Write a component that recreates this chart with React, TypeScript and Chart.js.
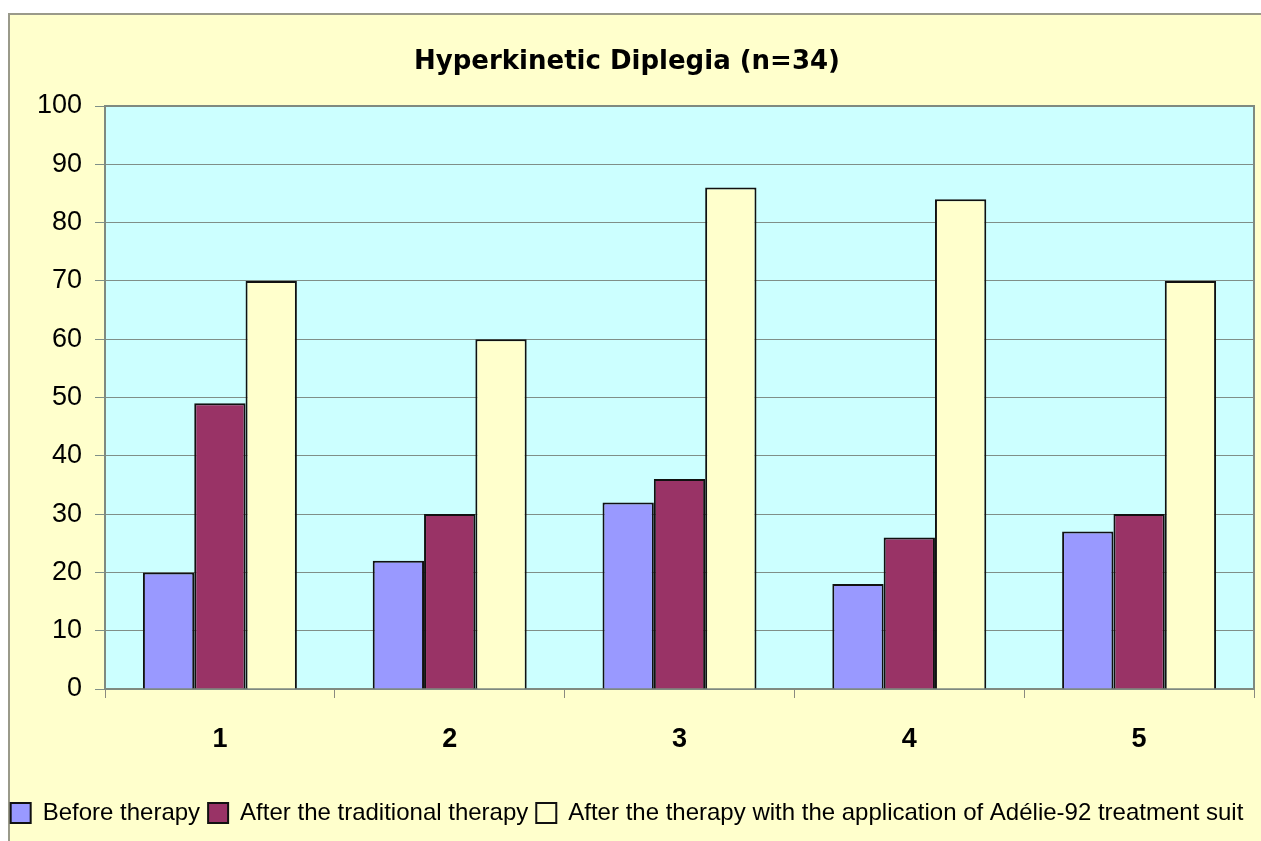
import { useEffect, useRef } from 'react';
import { Chart, registerables } from 'chart.js';

Chart.register(...registerables);

const categories = ['1', '2', '3', '4', '5'];
const beforeTherapy = [20, 22, 32, 18, 27];
const afterTraditional = [49, 30, 36, 26, 30];
const afterAdelie = [70, 60, 86, 84, 70];
const seriesLabels = [
  'Before therapy',
  'After the traditional therapy',
  'After the therapy with the application of Adélie-92 treatment suit',
];
const titleText = 'Hyperkinetic Diplegia (n=34)';
const yMin = 0;
const yMax = 100;
const yStep = 10;

const FONT = "'Liberation Sans', Arial, sans-serif";
const TITLE_FONT = "'DejaVu Sans', 'Liberation Sans', sans-serif";

const framePlugin = {
  id: 'frame',
  beforeDraw(chart: any) {
    const { ctx, chartArea, width, height } = chart;
    ctx.save();
    ctx.fillStyle = '#ffffff';
    ctx.fillRect(0, 0, width, height);
    ctx.fillStyle = '#FFFFCC';
    ctx.fillRect(9, 14, width, height);
    ctx.strokeStyle = '#9a9a8a';
    ctx.lineWidth = 2;
    ctx.beginPath();
    ctx.moveTo(9, height + 5);
    ctx.lineTo(9, 14);
    ctx.lineTo(width + 5, 14);
    ctx.stroke();
    ctx.fillStyle = '#CCFFFF';
    ctx.fillRect(chartArea.left, chartArea.top, chartArea.right - chartArea.left, chartArea.bottom - chartArea.top);
    ctx.restore();
  },
  afterDatasetsDraw(chart: any) {
    const { ctx, chartArea } = chart;
    ctx.save();
    ctx.strokeStyle = '#7f8a80';
    ctx.lineWidth = 2;
    ctx.beginPath();
    ctx.moveTo(chartArea.left, chartArea.top);
    ctx.lineTo(chartArea.right, chartArea.top);
    ctx.lineTo(chartArea.right, chartArea.bottom);
    ctx.stroke();
    ctx.restore();
  },
};

export default function App() {
  const ref = useRef<HTMLCanvasElement | null>(null);

  useEffect(() => {
    document.body.style.margin = '0';
    document.body.style.overflow = 'hidden';
    const canvas = ref.current;
    if (!canvas) return;
    const chart = new Chart(canvas, {
      type: 'bar',
      data: {
        labels: categories,
        datasets: [
          {
            label: seriesLabels[0],
            data: beforeTherapy,
            backgroundColor: '#9999FF',
            borderColor: '#111111',
            borderWidth: 2,
          },
          {
            label: seriesLabels[1],
            data: afterTraditional,
            backgroundColor: '#993366',
            borderColor: '#111111',
            borderWidth: 2,
          },
          {
            label: seriesLabels[2],
            data: afterAdelie,
            backgroundColor: '#FFFFCC',
            borderColor: '#111111',
            borderWidth: 2,
          },
        ],
      },
      options: {
        responsive: false,
        animation: false,
        devicePixelRatio: 1,
        layout: { padding: { left: 0, right: 7, top: 0, bottom: 6 } },
        datasets: {
          bar: { categoryPercentage: 0.67, barPercentage: 1.0 },
        },
        plugins: {
          title: {
            display: true,
            text: titleText,
            color: '#000000',
            font: { family: TITLE_FONT, size: 26, weight: 'bold', lineHeight: 1.2 },
            padding: { top: 46.4, bottom: 28.4 },
          },
          legend: {
            display: true,
            position: 'bottom',
            labels: {
              color: '#000000',
              font: { family: FONT, size: 24 },
              boxWidth: 20,
              boxHeight: 20,
              padding: 8,
            },
          },
          tooltip: { enabled: false },
        },
        scales: {
          x: {
            grid: {
              display: true,
              offset: true,
              drawOnChartArea: false,
              drawTicks: true,
              tickLength: 9,
              color: '#8a8a80',
              lineWidth: 1,
            },
            border: { display: true, color: '#7f8a80', width: 2 },
            ticks: {
              color: '#000000',
              font: { family: FONT, size: 27, weight: 'bold' },
              padding: 25,
            },
            afterFit(scale: any) {
              scale.height = 104;
            },
          },
          y: {
            min: yMin,
            max: yMax,
            grid: {
              display: true,
              drawOnChartArea: true,
              drawTicks: true,
              tickLength: 10,
              color: '#7f8f88',
              lineWidth: 1,
            },
            border: { display: true, color: '#7f8a80', width: 2 },
            ticks: {
              stepSize: yStep,
              color: '#000000',
              font: { family: FONT, size: 27 },
              padding: 13,
            },
            afterFit(scale: any) {
              scale.width = 105;
            },
          },
        },
      },
      plugins: [framePlugin],
    } as any);
    return () => chart.destroy();
  }, []);

  return (
    <div style={{ width: 1261, height: 841 }}>
      <canvas ref={ref} width={1261} height={841} style={{ display: 'block' }} />
    </div>
  );
}
